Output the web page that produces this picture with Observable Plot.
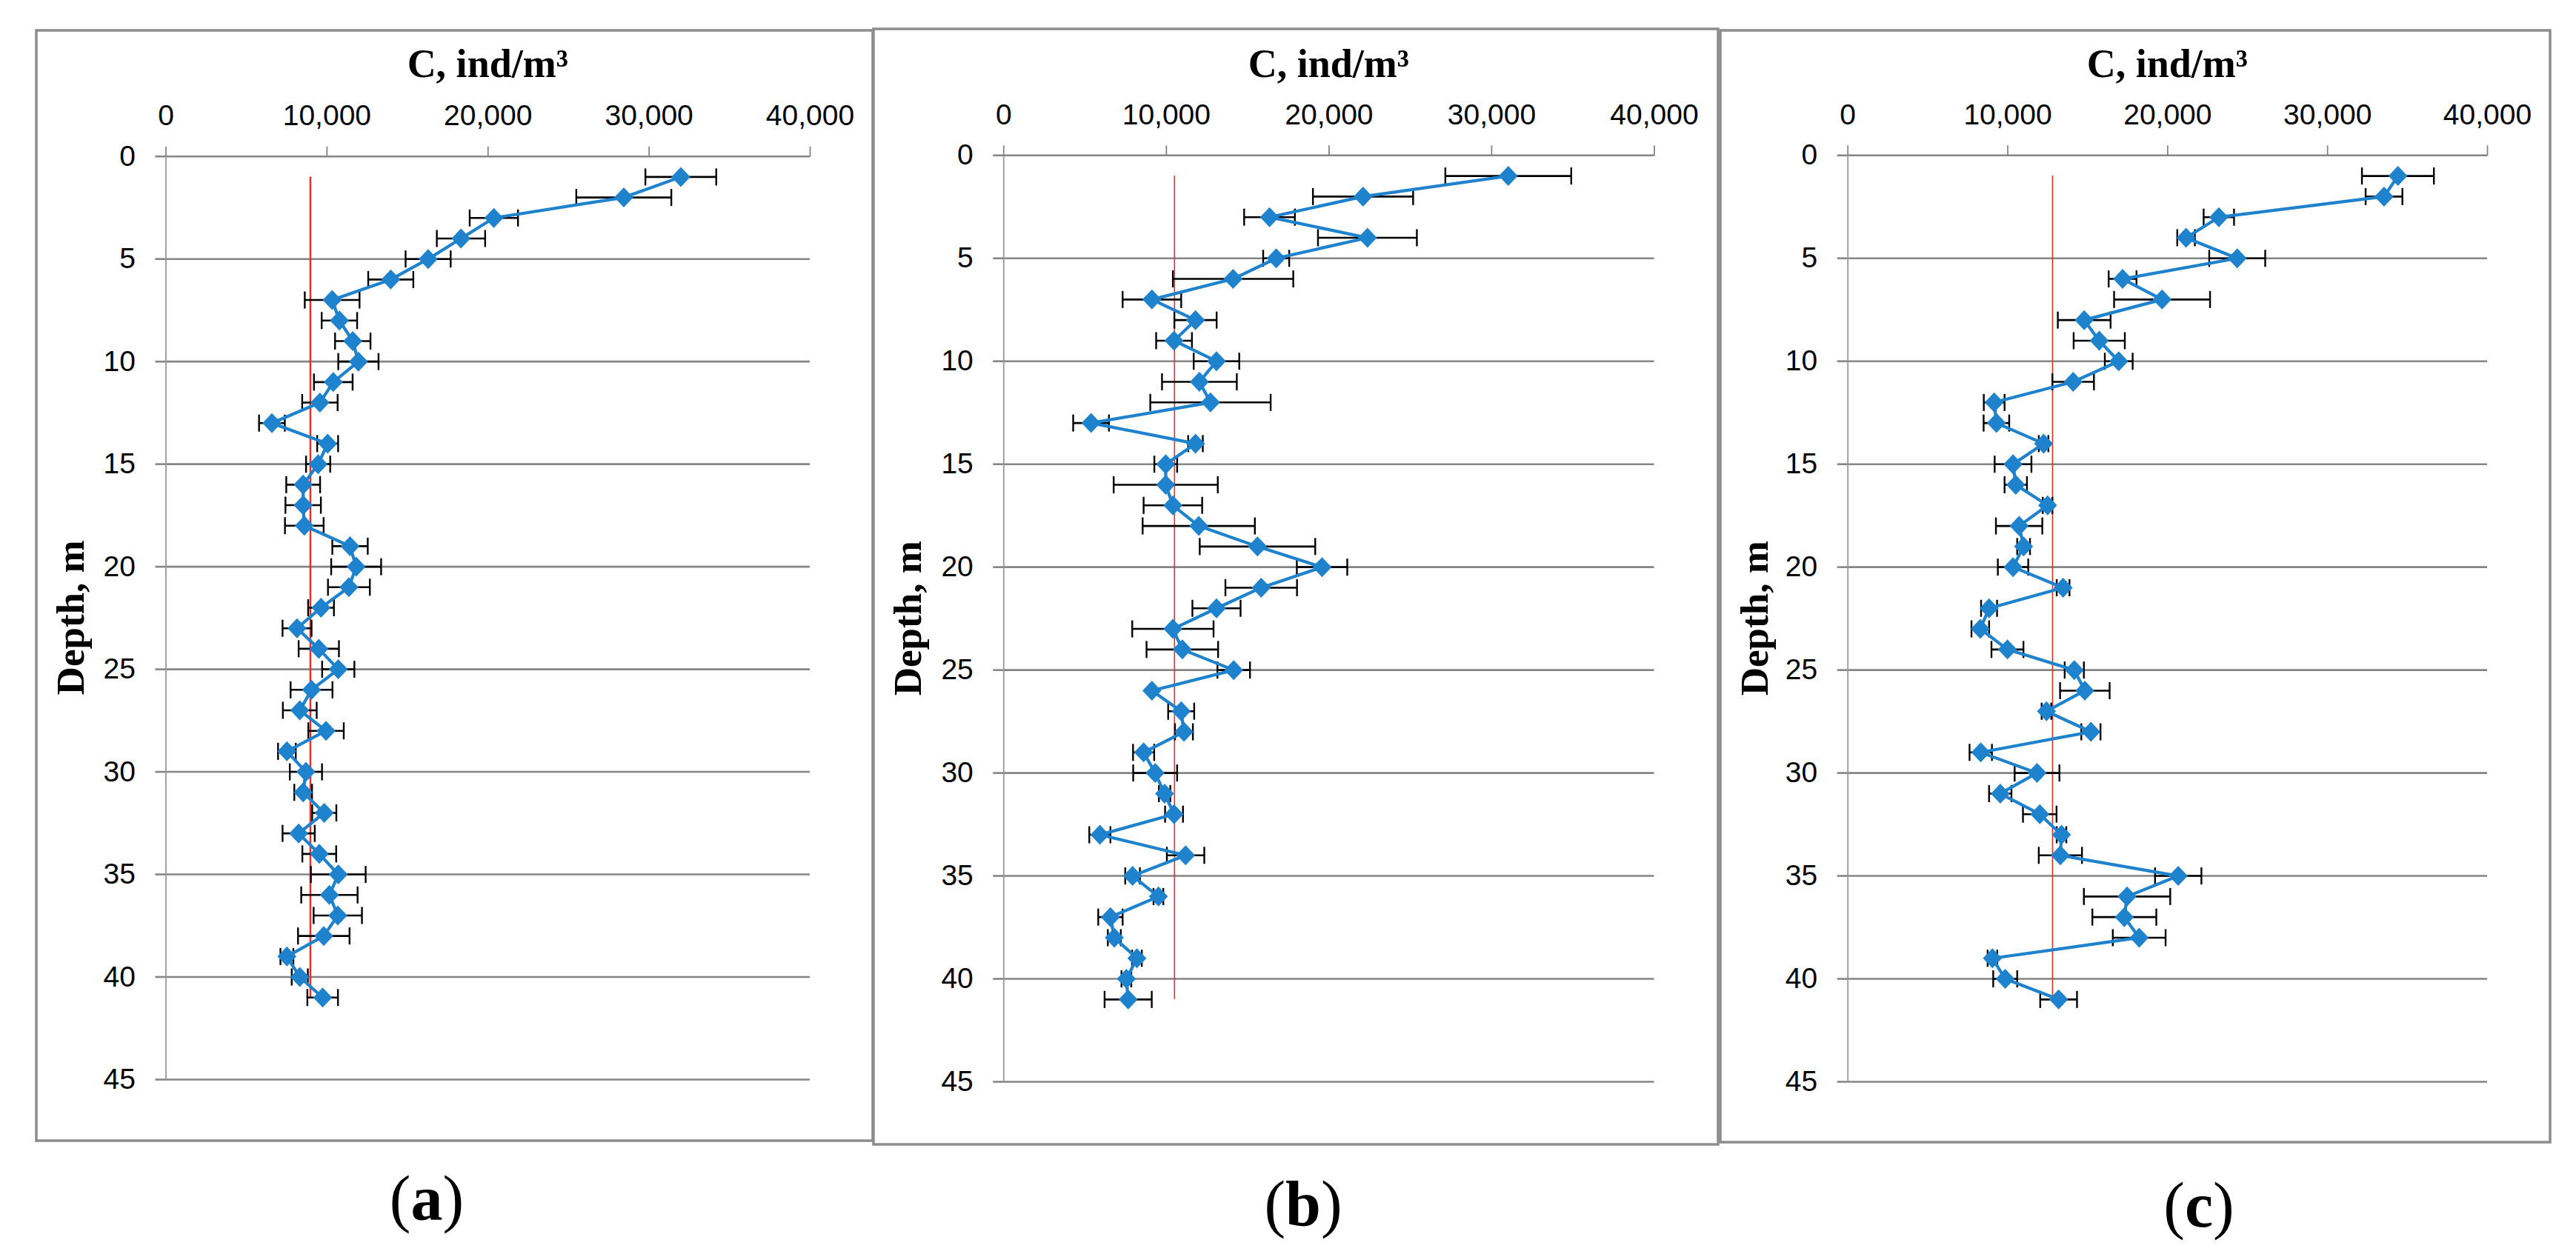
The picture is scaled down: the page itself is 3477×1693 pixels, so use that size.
<!DOCTYPE html>
<html><head><meta charset="utf-8">
<script src="https://cdn.jsdelivr.net/npm/d3@7"></script>
<script src="https://cdn.jsdelivr.net/npm/@observablehq/plot@0.6"></script>
<style>
html,body{margin:0;padding:0;background:#fff;}
#root{position:relative;width:3477px;height:1693px;overflow:hidden;background:#fff;}
.plot{position:absolute;}
#overlay{position:absolute;left:0;top:0;pointer-events:none;}
</style></head><body><div id="root"></div>
<script>
// ---------------- data ----------------
const depths = [1,2,3,4,5,6,7,8,9,10,11,12,13,14,15,16,17,18,19,20,21,22,23,24,25,26,27,28,29,30,31,32,33,34,35,36,37,38,39,40,41];

const concA = [31970,28430,20360,18320,16280,13960,10320,10770,11600,11950,10390,9560,6580,10040,9450,8520,8520,8590,11430,11810,11360,9630,8140,9490,10700,9040,8310,9940,7510,8690,8520,9830,8240,9520,10700,10150,10670,9800,7510,8310,9730];
const errA  = [2200,2950,1500,1500,1400,1400,1700,1100,1100,1250,1200,1100,800,650,750,1050,1100,1200,1100,1550,1300,800,900,1250,1000,1300,1050,1100,550,1000,550,750,1000,1050,1700,1750,1500,1600,400,500,950];

const concB = [31020,22090,16340,22360,16750,14100,9110,11790,10470,13080,12030,12710,5370,11790,9960,9960,10400,11990,15600,19570,15830,13080,10400,10980,14140,9110,10910,11080,8600,9310,9890,10470,5910,11180,7920,9510,6560,6800,8190,7540,7650];
const errB  = [3870,3080,1560,3040,800,3700,1800,1300,1100,1400,2300,3700,1100,450,700,3200,1800,3450,3550,1550,2200,1480,2500,2200,1000,0,800,550,650,1350,350,550,650,1150,450,300,750,400,300,300,1450];

const concC = [34400,33530,23200,21150,24350,17180,19650,14780,15720,16940,14090,9150,9290,12240,10330,10500,12490,10710,10990,10330,13460,8830,8280,9980,14160,14820,12420,15200,8310,11830,9530,12000,13360,13290,20660,17460,17290,18220,9040,9840,13180];
const errC  = [2250,1150,950,550,1750,870,3000,1650,1600,870,1300,650,800,300,1150,700,300,1450,400,950,400,500,550,1000,600,1550,300,600,700,1400,700,1050,300,1350,1450,2700,2000,1650,300,750,1150];

const refLines = [8970, 10500, 12800];
const xTicks = [0, 10000, 20000, 30000, 40000];
const yTicks = [0, 5, 10, 15, 20, 25, 30, 35, 40, 45];
const panelLetters = ["a", "b", "c"];
const xTitle = "C, ind/m³";
const yTitle = "Depth, m";

// ---------------- layout / style ----------------
const W = 3477, H = 1693;
const BLUE = "#1f82cc", RED = "#e0302a", GRID = "#858585";
const panels = [
  {left: 49,   top: 41, w: 1129, h: 1499, ml: 174.5, mr: 85,   mt: 169.7, mb: 83, labX: 576,  labY: 1647, redW: 2.5},
  {left: 1179, top: 39, w: 1140, h: 1506, ml: 175.3, mr: 86.5, mt: 170.3, mb: 85, labX: 1759, labY: 1654, redW: 1.6},
  {left: 2322, top: 41, w: 1120, h: 1501, ml: 171.7, mr: 85,   mt: 168.3, mb: 82, labX: 2968, labY: 1656, redW: 1.6}
];
const series = [[concA, errA], [concB, errB], [concC, errC]];

const capSym = {draw(ctx, size){ const r = Math.sqrt(size/Math.PI); ctx.moveTo(0,-r); ctx.lineTo(0,r); }};
const diamondSym = {draw(ctx, size){ const r = Math.sqrt(size/Math.PI); ctx.moveTo(0,-r); ctx.lineTo(r*0.95,0); ctx.lineTo(0,r); ctx.lineTo(-r*0.95,0); ctx.closePath(); }};

const root = document.getElementById("root");

panels.forEach((p, k) => {
  const [conc, err] = series[k];
  const data = depths.map((d, i) => ({depth: d, c: conc[i], e: err[i]}));
  const [dmin, dmax] = d3.extent(depths);
  const chart = Plot.plot({
    width: p.w, height: p.h,
    marginLeft: p.ml, marginRight: p.mr, marginTop: p.mt, marginBottom: p.mb,
    style: {fontFamily: "'Liberation Sans', Arial, sans-serif", fontSize: "39px", color: "#000", background: "transparent", overflow: "visible"},
    x: {domain: [0, 40000]},
    y: {domain: [0, 45], reverse: true},
    marks: [
      Plot.gridY(yTicks, {stroke: GRID, strokeOpacity: 1, strokeWidth: 2.6}),
      Plot.ruleX([0], {stroke: "#999", strokeWidth: 1.8}),
      Plot.axisY(yTicks, {anchor: "left", tickSize: 14, tickPadding: 27, stroke: GRID, strokeWidth: 2.6, fill: "#000", label: null}),
      Plot.axisX(xTicks, {anchor: "top", tickSize: 14, tickPadding: 28, tickFormat: d3.format(","), stroke: GRID, strokeWidth: 1.8, fill: "#000", label: null}),
      Plot.ruleX([refLines[k]], {y1: dmin, y2: dmax, stroke: RED, strokeWidth: p.redW}),
      Plot.link(data, {x1: d => d.c - d.e, x2: d => d.c + d.e, y1: "depth", y2: "depth", stroke: "#000", strokeWidth: 2.6}),
      Plot.dot(data, {x: d => d.c - d.e, y: "depth", symbol: capSym, r: 11.5, stroke: "#000", strokeWidth: 2.4, fill: "none"}),
      Plot.dot(data, {x: d => d.c + d.e, y: "depth", symbol: capSym, r: 11.5, stroke: "#000", strokeWidth: 2.4, fill: "none"}),
      Plot.line(data, {x: "c", y: "depth", stroke: BLUE, strokeWidth: 4.2}),
      Plot.dot(data, {x: "c", y: "depth", symbol: diamondSym, r: 13.5, fill: BLUE, stroke: "none"})
    ]
  });
  chart.classList.add("plot");
  chart.style.left = p.left + "px";
  chart.style.top = p.top + "px";
  root.appendChild(chart);
});

// overlay: frames, titles, panel letters
const ov = d3.select(root).append("svg").attr("id", "overlay").attr("width", W).attr("height", H);
panels.forEach((p, k) => {
  ov.append("rect").attr("x", p.left).attr("y", p.top).attr("width", p.w).attr("height", p.h)
    .attr("fill", "none").attr("stroke", "#8c8c8c").attr("stroke-width", 3.5);
  const cx = p.left + p.ml + (p.w - p.ml - p.mr) / 2;
  const cy = p.top + p.mt + (p.h - p.mt - p.mb) / 2;
  ov.append("text").attr("x", cx).attr("y", 104).attr("text-anchor", "middle")
    .attr("font-family", "'Liberation Serif', 'Times New Roman', serif").attr("font-weight", "bold").attr("font-size", 54)
    .text(xTitle);
  ov.append("text").attr("transform", `translate(${p.left + 64},${cy}) rotate(-90)`).attr("text-anchor", "middle")
    .attr("font-family", "'Liberation Serif', 'Times New Roman', serif").attr("font-weight", "bold").attr("font-size", 53)
    .text(yTitle);
  const t = ov.append("text").attr("x", p.labX).attr("y", p.labY).attr("text-anchor", "middle")
    .attr("font-family", "'Liberation Serif', 'Times New Roman', serif").attr("font-size", 86);
  t.append("tspan").text("(");
  t.append("tspan").attr("font-weight", "bold").text(panelLetters[k]);
  t.append("tspan").text(")");
});
</script></body></html>
